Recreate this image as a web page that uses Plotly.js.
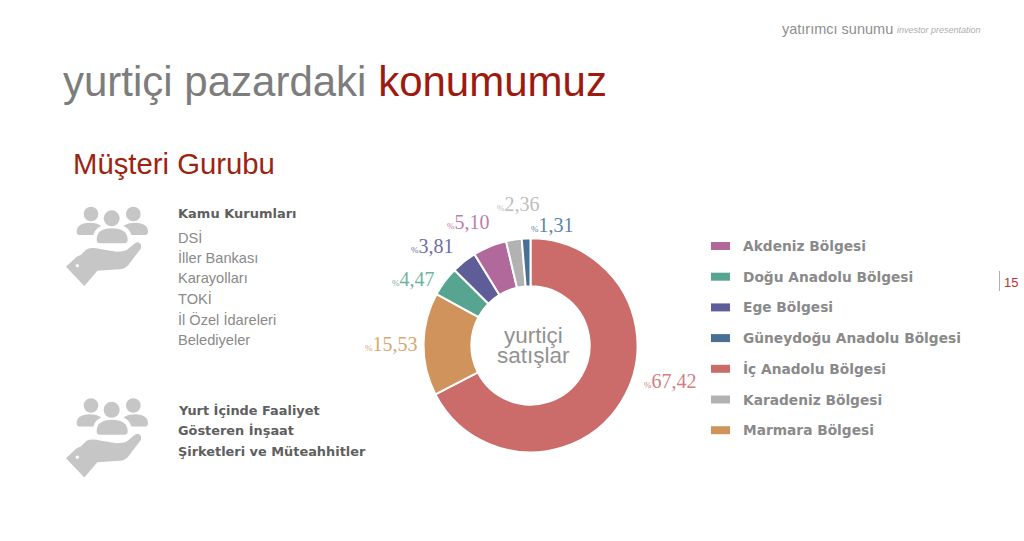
<!DOCTYPE html>
<html><head><meta charset="utf-8">
<script src="https://cdn.plot.ly/plotly-3.0.1.min.js"></script>
<style>html,body{margin:0;padding:0;background:#fff}#c{width:1024px;height:541px}</style></head>
<body><div id="c"></div>
<script>
const sliceLabels=["İç Anadolu Bölgesi","Marmara Bölgesi","Doğu Anadolu Bölgesi","Ege Bölgesi","Akdeniz Bölgesi","Karadeniz Bölgesi","Güneydoğu Anadolu Bölgesi"];
const sliceValues=[67.42,15.53,4.47,3.81,5.10,2.36,1.31];
const sliceColors=["#CB6C6B","#CF935B","#57A591","#5F5D98","#B1689A","#B2B2B2","#4A6F97"];
const labelColors=["#D27F7E","#D9A675","#6FB3A1","#6F6DA6","#BC7EA8","#BEBEBE","#5F84AB"];
const labelLeft=[644,365,392,411,447,497,531];
const labelMid=[381,344,279,246,222,204,225];
const legendNames=["Akdeniz Bölgesi","Doğu Anadolu Bölgesi","Ege Bölgesi","Güneydoğu Anadolu Bölgesi","İç Anadolu Bölgesi","Karadeniz Bölgesi","Marmara Bölgesi"];
const kamu=["DSİ","İller Bankası","Karayolları","TOKİ","İl Özel İdareleri","Belediyeler"];
const insaat=["Yurt İçinde Faaliyet","Gösteren İnşaat","Şirketleri ve Müteahhitler"];
const W=1024,H=541;
const px=x=>x/W, py=y=>1-y/H;
const sans="Liberation Sans, Arial, sans-serif", bold="DejaVu Sans, sans-serif", serif="Liberation Serif, serif";
function txt(x,y,t,size,color,family,anchor){return {xref:'paper',yref:'paper',x:px(anchor?x:x-2),y:py(y),text:t,showarrow:false,xanchor:anchor||'left',yanchor:'middle',font:{size:size,color:color,family:family||sans}};}
const ann=[];
ann.push(txt(782,29,'yatırımcı sunumu',14.5,'#8f8f8f'));
ann.push(txt(897,30,'<i>investor presentation</i>',9,'#adadad'));
ann.push(txt(63,81,'yurtiçi pazardaki <span style="color:#9c1a10">konumumuz</span>',42,'#7d7d7d'));
ann.push(txt(73,163,'Müşteri Gurubu',29.3,'#9c2412'));
ann.push(txt(178,213,'<b>Kamu Kurumları</b>',13,'#5f5f5f',bold));
kamu.forEach((t,i)=>ann.push(txt(178,237+i*20.6,t,14.6,'#8a8a8a')));
insaat.forEach((t,i)=>ann.push(txt(178,410+i*20.6,'<b>'+t+'</b>',12.9,'#5f5f5f',bold)));
ann.push(txt(533,335,'yurtiçi',22.5,'#929292',sans,'center'));
ann.push(txt(533,355,'satışlar',22.5,'#929292',sans,'center'));
ann.push(txt(1004,282,'15',13,'#b5362a'));
sliceValues.forEach((v,i)=>ann.push(txt(labelLeft[i],labelMid[i],'<span style="font-size:9px">%</span>'+v.toFixed(2).replace('.',','),20,labelColors[i],serif)));
const shapes=[{type:'line',xref:'paper',yref:'paper',x0:px(999.5),x1:px(999.5),y0:py(271),y1:py(291),line:{color:'#b0b0b0',width:1}}];
legendNames.forEach((n,i)=>{
  const y=246+i*30.7, k=sliceLabels.indexOf(n);
  shapes.push({type:'rect',xref:'paper',yref:'paper',x0:px(711),x1:px(730),y0:py(y-4),y1:py(y+4),fillcolor:sliceColors[k],line:{width:0}});
  ann.push(txt(743,y,'<b>'+n+'</b>',13.75,'#8a8a8a',bold));
});
// icon drawn in 3x-zoomed local units
const iconPaths=[
 "M50 95 Q50 70 88 68 Q112 68 124 78 Q105 85 100 105 L60 105 Q50 105 50 95 Z",
 "M264 95 Q264 70 226 68 Q202 68 190 78 Q209 85 214 105 L254 105 Q264 105 264 95 Z",
 "M110 120 Q110 85 155 85 Q203 85 203 120 Q203 130 193 130 L120 130 Q110 130 110 120 Z",
 "M18 200 L50 170 L62 165 L80 148 Q95 140 120 147 L170 155 Q190 155 200 150 L225 130 Q238 122 243 135 L243 145 L205 195 Q195 207 180 208 L112 212 L73 258 Z"
];
const iconCircles=[[93,42,22,'#C6C6C6'],[155,55,24,'#C6C6C6'],[220,42,22,'#C6C6C6'],[52,197,5,'#FFFFFF']];
const iconTops=[200,391.5];
iconTops.forEach(top=>{
  const X=v=>60+v/3, Y=v=>top+v/3;
  iconPaths.forEach(p=>shapes.push({type:'path',xref:'paper',yref:'paper',fillcolor:'#C6C6C6',line:{width:0},
    path:p.replace(/(-?[\d.]+) (-?[\d.]+)/g,(m,a,b)=>px(X(+a))+' '+py(Y(+b)))}));
  iconCircles.forEach(c=>shapes.push({type:'circle',xref:'paper',yref:'paper',fillcolor:c[3],line:{width:0},
    x0:px(X(c[0]-c[2])),x1:px(X(c[0]+c[2])),y0:py(Y(c[1]+c[2])),y1:py(Y(c[1]-c[2]))}));
});
const data=[{type:'pie',labels:sliceLabels,values:sliceValues,sort:false,direction:'clockwise',rotation:0,hole:0.553,
  textinfo:'none',automargin:false,
  marker:{colors:sliceColors,line:{color:'#fff',width:2}},
  domain:{x:[px(423.5),px(637.5)],y:[py(452.7),py(238)]},showlegend:false,hoverinfo:'label+value'}];
Plotly.newPlot('c',data,{width:W,height:H,margin:{l:0,r:0,t:0,b:0},paper_bgcolor:'#fff',plot_bgcolor:'#fff',annotations:ann,shapes:shapes},{displayModeBar:false,staticPlot:true});
</script></body></html>
